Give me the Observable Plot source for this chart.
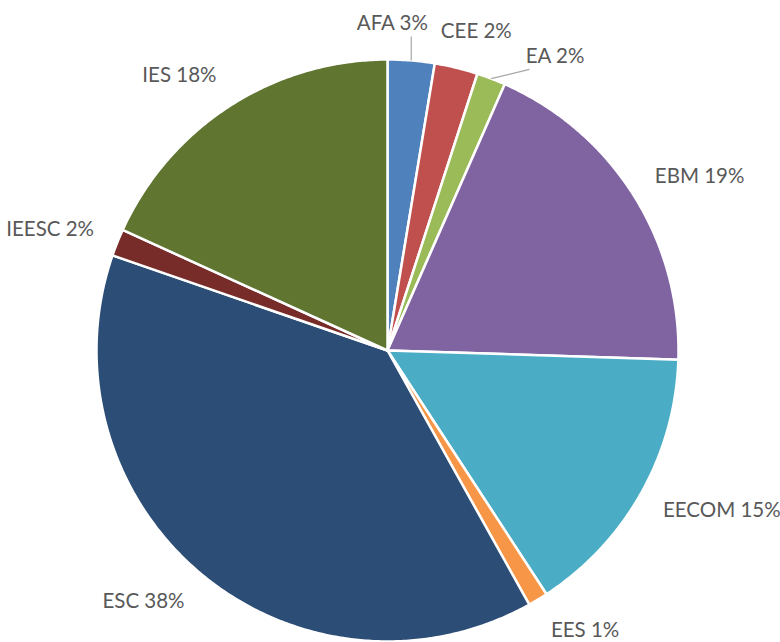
<!DOCTYPE html>
<html>
<head>
<meta charset="utf-8">
<script src="https://cdn.jsdelivr.net/npm/d3@7"></script>
<script src="https://cdn.jsdelivr.net/npm/@observablehq/plot@0.6"></script>
<style>
  html, body { margin: 0; padding: 0; background: #ffffff; }
  #chart { width: 780px; height: 642px; }
</style>
</head>
<body>
<div id="chart"></div>
<script>
// ---- data (clockwise from 12 o'clock) ----
const categories = ["AFA", "CEE", "EA", "EBM", "EECOM", "EES", "ESC", "IEESC", "IES"];
const values = [2.6, 2.4, 1.6, 18.9, 15.3, 1.1, 38.4, 1.5, 18.2];
const percentLabels = ["3%", "2%", "2%", "19%", "15%", "1%", "38%", "2%", "18%"];
const colors = ["#4F81BD", "#C0504D", "#9BBB59", "#8064A2", "#4BACC6", "#F79646", "#2C4D75", "#772C2A", "#5F7530"];

// ---- layout ----
const W = 780, H = 642;
const margin = {top: 59, right: 102, bottom: 1, left: 96};
const R = (W - margin.left - margin.right) / 2;   // pixels per data unit (pie radius)
const FONT_SIZE = 20.5;
const FONT_FAMILY = "Lato, 'Open Sans', sans-serif";
const TEXT_COLOR = "#595959";
const GAP = 25;      // px between arc and label box
const BOX_H = 22;
const LABEL_PAD = 11;

const total = d3.sum(values);
let acc = 0;
const slices = categories.map((c, i) => {
  const a0 = acc / total * 2 * Math.PI;
  acc += values[i];
  const a1 = acc / total * 2 * Math.PI;
  return {category: c, value: values[i], a0, a1, mid: (a0 + a1) / 2, color: colors[i], label: `${c} ${percentLabels[i]}`};
});

function slicePoints(s) {
  const pts = [{x: 0, y: 0}];
  const n = Math.max(2, Math.ceil((s.a1 - s.a0) / (Math.PI / 360)));
  for (let k = 0; k <= n; k++) {
    const a = s.a0 + (s.a1 - s.a0) * k / n;
    pts.push({x: Math.sin(a), y: Math.cos(a)});
  }
  pts.push({x: 0, y: 0});
  return pts;
}

// text measurement
const ctx = document.createElement("canvas").getContext("2d");
ctx.font = `${FONT_SIZE}px ${FONT_FAMILY}`;

// label box (pixel offsets from pie center, screen y down)
function labelBox(angle, w) {
  const s = Math.sin(angle), c = Math.cos(angle);
  const px = (R + GAP) * s, py = -(R + GAP) * c;
  const cx = px + (w / 2) * Math.max(-1, Math.min(1, s * 2.5));
  const cy = py + (BOX_H / 2) * (-c);
  return {cx, cy, x0: cx - w / 2, x1: cx + w / 2, y0: cy - BOX_H / 2, y1: cy + BOX_H / 2};
}
function overlap(a, b, pad) {
  return a.x0 < b.x1 + pad && b.x0 < a.x1 + pad && a.y0 < b.y1 + pad && b.y0 < a.y1 + pad;
}

const labels = slices.map(s => ({label: s.label, mid: s.mid, ang: s.mid, w: ctx.measureText(s.label).width}));
const STEP = Math.PI / 720;
for (let iter = 0; iter < 2000; iter++) {
  let moved = false;
  for (let i = 0; i < labels.length - 1; i++) {
    const a = labels[i], b = labels[i + 1];
    if (overlap(labelBox(a.ang, a.w), labelBox(b.ang, b.w), LABEL_PAD)) {
      a.ang -= STEP; b.ang += STEP; moved = true;
    }
  }
  if (!moved) break;
}
labels.forEach(l => {
  l.box = labelBox(l.ang, l.w);
  l.x = l.box.cx / R;
  l.y = -l.box.cy / R;
});

// leader lines for labels pushed away from their slice
const leaders = [];
labels.forEach(l => {
  if (Math.abs(l.ang - l.mid) * 180 / Math.PI > 3) {
    const ax = Math.sin(l.mid) * R, ay = -Math.cos(l.mid) * R;
    const nx = Math.max(l.box.x0 + 4, Math.min(l.box.x1 - 4, ax));
    const ny = Math.max(l.box.y0, Math.min(l.box.y1, ay));
    leaders.push({x1: ax / R, y1: -ay / R, x2: nx / R, y2: -(ny + 2) / R});
  }
});

const plot = Plot.plot({
  width: W,
  height: H,
  marginTop: margin.top,
  marginRight: margin.right,
  marginBottom: margin.bottom,
  marginLeft: margin.left,
  x: {domain: [-1, 1], axis: null},
  y: {domain: [-1, 1], axis: null},
  style: {background: "#ffffff", overflow: "visible"},
  marks: [
    ...slices.map(s => Plot.line(slicePoints(s), {
      x: "x", y: "y", fill: s.color, stroke: "#ffffff", strokeWidth: 2.5, strokeLinejoin: "round"
    })),
    Plot.link(leaders, {x1: "x1", y1: "y1", x2: "x2", y2: "y2", stroke: "#a6a6a6", strokeWidth: 1.2}),
    Plot.text(labels, {
      x: "x", y: "y", text: "label",
      fontSize: FONT_SIZE, fontFamily: FONT_FAMILY, fill: TEXT_COLOR,
      textAnchor: "middle", lineAnchor: "middle"
    })
  ]
});
document.getElementById("chart").appendChild(plot);
</script>
</body>
</html>
